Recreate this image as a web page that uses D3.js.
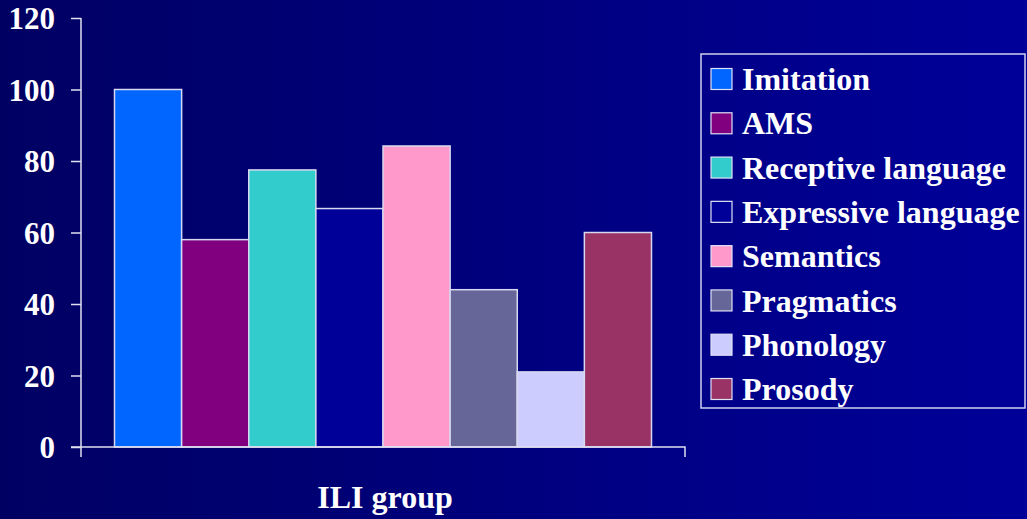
<!DOCTYPE html>
<html>
<head>
<meta charset="utf-8">
<script src="https://cdn.jsdelivr.net/npm/d3@7"></script>
<style>
  html, body { margin: 0; padding: 0; background: #000066; }
  svg { display: block; }
  text { font-family: "Liberation Serif", "Times New Roman", serif; font-weight: bold; fill: #ffffff; }
</style>
</head>
<body>
<svg id="chart" width="1027" height="519"></svg>
<script>
// Scores per skill area for the ILI group
const categories = ["Imitation", "AMS", "Receptive language", "Expressive language",
                    "Semantics", "Pragmatics", "Phonology", "Prosody"];
const values = [100, 58, 77.5, 66.7, 84.2, 44, 21, 60];
const colors = ["#0066ff", "#800080", "#33cccc", "#000099",
                "#ff99cc", "#666699", "#ccccff", "#993366"];
const yTicks = [0, 20, 40, 60, 80, 100, 120];
const groupLabel = "ILI group";

const W = 1027, H = 519;
const svg = d3.select("#chart");

// Horizontal background gradient
const defs = svg.append("defs");
const grad = defs.append("linearGradient").attr("id", "bg")
  .attr("x1", "0%").attr("x2", "100%").attr("y1", "0%").attr("y2", "0%");
grad.append("stop").attr("offset", "0%").attr("stop-color", "#000063");
grad.append("stop").attr("offset", "100%").attr("stop-color", "#000099");
svg.append("rect").attr("width", W).attr("height", H).attr("fill", "url(#bg)");

const plot = { left: 81, right: 685, top: 18, bottom: 447 };

const y = d3.scaleLinear().domain([0, 120]).range([plot.bottom, plot.top]);
const xGroup = d3.scaleBand().domain([groupLabel]).range([plot.left, plot.right]).paddingInner(0).paddingOuter(0.0624);
const x = d3.scaleBand().domain(categories).range([xGroup(groupLabel), xGroup(groupLabel) + xGroup.bandwidth()]).padding(0);

// Bars
svg.append("g").selectAll("rect").data(categories).join("rect")
  .attr("x", d => x(d))
  .attr("y", (d, i) => y(values[i]))
  .attr("width", x.bandwidth())
  .attr("height", (d, i) => y(0) - y(values[i]))
  .attr("fill", (d, i) => colors[i])
  .attr("stroke", "#d8d8f0")
  .attr("stroke-width", 1.5);

// Y axis
const yAxis = d3.axisLeft(y).tickValues(yTicks).tickSize(10).tickPadding(16).tickFormat(d3.format("d"));
const gy = svg.append("g").attr("transform", `translate(${plot.left},0)`).call(yAxis);
gy.select(".domain").attr("d", `M0,${plot.top}V${plot.bottom + 10}`).attr("stroke", "#e0e0f0").attr("stroke-width", 1.5);
gy.selectAll(".tick line").attr("stroke", "#e0e0f0").attr("stroke-width", 1.5);
gy.selectAll(".tick text").attr("fill", "#ffffff").style("font-size", "31px")
  .style("font-family", "'Liberation Serif', 'Times New Roman', serif").style("font-weight", "bold")
  .attr("dy", "0.34em");

// X axis
const xAxisScale = d3.scaleOrdinal().domain([groupLabel]).range([(plot.left + plot.right) / 2]);
const gx = svg.append("g").attr("transform", `translate(0,${plot.bottom})`);
gx.append("path").attr("d", `M${plot.left - 10},0H${plot.right}V10`).attr("fill", "none")
  .attr("stroke", "#e0e0f0").attr("stroke-width", 1.5);
gx.append("text").attr("x", xAxisScale(groupLabel) + 2).attr("y", 61)
  .attr("text-anchor", "middle").style("font-size", "32px").text(groupLabel);

// Legend
const legend = svg.append("g");
legend.append("rect").attr("x", 701).attr("y", 54).attr("width", 324).attr("height", 354)
  .attr("fill", "none").attr("stroke", "#d0d0ee").attr("stroke-width", 1.5);
const rowY = d3.scaleLinear().domain([0, 7]).range([79, 389]);
const rows = legend.selectAll("g.item").data(categories).join("g").attr("class", "item")
  .attr("transform", (d, i) => `translate(711,${rowY(i)})`);
rows.append("rect").attr("x", 0).attr("y", -10.5).attr("width", 21).attr("height", 21)
  .attr("fill", (d, i) => colors[i]).attr("stroke", "#e0e0f5").attr("stroke-width", 1.2);
rows.append("text").attr("x", 31).attr("y", 0).attr("dy", "0.35em")
  .style("font-size", "32px").text(d => d);
</script>
</body>
</html>
